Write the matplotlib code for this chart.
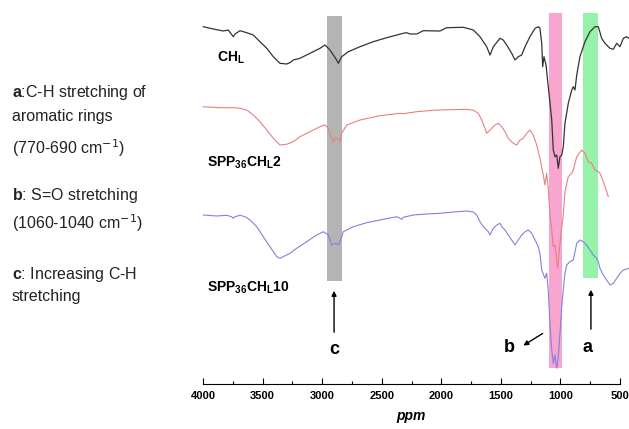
import numpy as np
import matplotlib
matplotlib.use('Agg')
import matplotlib.pyplot as plt

# font setup (Arial-like)
plt.rcParams['font.family'] = ['Liberation Sans', 'DejaVu Sans']
plt.rcParams['mathtext.fontset'] = 'custom'
plt.rcParams['mathtext.rm'] = 'Liberation Sans'
plt.rcParams['mathtext.bf'] = 'Liberation Sans:bold'
plt.rcParams['mathtext.it'] = 'Liberation Sans:italic'

# spectra: wavenumber (cm-1) and intensity (a.u.)
ch_x = [3997, 3914, 3830, 3788, 3746, 3731, 3690, 3633, 3578, 3522, 3465, 3410, 3354, 3298,
        3270, 3242, 3186, 3102, 3018, 2976, 2934, 2878, 2864, 2836, 2780, 2682, 2571, 2458,
        2319, 2290, 2263, 2206, 2151, 2011, 1983, 1955, 1815, 1731, 1675, 1619, 1591, 1563,
        1507, 1480, 1451, 1409, 1381, 1354, 1325, 1297, 1256, 1213, 1186, 1172, 1157, 1149,
        1138, 1121, 1102, 1073, 1060, 1046, 1031, 1018, 1004, 989, 976, 962, 934, 905, 892,
        878, 863, 836, 794, 752, 710, 682, 654, 626, 584, 556, 528, 500, 472, 444, 425]
ch_y = [357.3, 355, 353, 354, 347.3, 350, 353.3, 351.3, 349, 342.3, 335.7, 327.3, 320.7, 320,
        321.3, 324, 325.7, 330.7, 335.7, 339, 334, 324, 320.7, 327.3, 332.3, 337.3, 342.3, 346.3,
        350.7, 351.3, 350, 350, 353.3, 353, 354.7, 356.3, 356.7, 354, 347.3, 337.3, 329, 337.3,
        345.7, 344, 339, 330.7, 324, 327.3, 329, 337.3, 347.3, 355.7, 357.3, 355.7, 340.7, 317.3,
        327.3, 319, 297.3, 264, 234, 227.3, 229, 215.7, 227.3, 229, 237.3, 260.7, 280.7, 294, 297.3,
        294, 309, 327.3, 342.3, 352.3, 357.3, 357.3, 345.7, 340.7, 335.7, 334.7, 340.7, 337.3,
        345.7, 347.3, 345.7]

spp2_x = [3997, 3857, 3746, 3690, 3633, 3578, 3522, 3465, 3410, 3354, 3298, 3242, 3186, 3102,
          3018, 2976, 2948, 2920, 2906, 2892, 2864, 2850, 2836, 2794, 2682, 2514, 2347, 2319,
          2206, 2067, 1927, 1787, 1731, 1689, 1661, 1633, 1619, 1605, 1577, 1549, 1522, 1493,
          1465, 1438, 1396, 1367, 1339, 1312, 1283, 1256, 1228, 1199, 1172, 1144, 1130, 1116,
          1102, 1088, 1073, 1060, 1046, 1023, 1004, 987, 976, 962, 934, 905, 892, 863, 822,
          794, 766, 738, 710, 682, 668, 640, 598]
spp2_y = [277.3, 276.3, 276.3, 275.7, 274, 269, 262.3, 254, 245.7, 239, 239.7, 242.3, 247.3, 252.3,
          257.3, 259, 255.7, 245.7, 242.3, 245.7, 245.7, 242.3, 250.7, 259, 264, 268.3, 270.7, 270.3,
          272.3, 273.7, 274.3, 274.7, 273.7, 270.7, 264, 255.7, 250.7, 252.3, 255.7, 259, 260.7, 257.3,
          252.3, 245.7, 240.7, 239, 244, 245.7, 250.7, 254, 249, 239, 225.7, 209, 199, 210.7,
          195.7, 169, 154, 137.3, 139, 115.7, 140.7, 159, 169, 192.3, 207.3, 210.7, 214, 227.3, 234,
          230.7, 222.3, 220.7, 214, 212.3, 210.7, 202.3, 187.3]

spp10_x = [3997, 3885, 3801, 3759, 3746, 3731, 3690, 3647, 3605, 3549, 3494, 3438, 3381, 3354,
           3326, 3270, 3214, 3130, 3046, 2990, 2948, 2934, 2920, 2892, 2864, 2850, 2822, 2738,
           2626, 2487, 2374, 2347, 2332, 2319, 2235, 2122, 2011, 1899, 1787, 1731, 1703, 1675,
           1647, 1605, 1591, 1563, 1535, 1507, 1493, 1465, 1438, 1409, 1381, 1354, 1325, 1297,
           1270, 1241, 1213, 1186, 1172, 1157, 1130, 1116, 1102, 1088, 1073, 1060, 1046, 1031,
           1018, 1004, 989, 976, 962, 947, 920, 892, 863, 836, 808, 780, 752, 724, 696, 682,
           668, 640, 612, 584, 556, 528, 500, 472, 425]
spp10_y = [169, 168, 168.7, 167.3, 165.7, 167.3, 168.7, 167.3, 164, 157.3, 147.3, 137.3, 127.3, 125.7,
           127.3, 130.7, 135.7, 142.3, 149, 152.3, 149, 144, 139, 140.7, 139, 142.3, 152.3, 157.3,
           161.3, 164.7, 167.3, 165.7, 164.7, 166.7, 169, 170, 170.7, 172, 173, 172, 169, 162.3,
           157.3, 152.3, 149, 155.7, 159, 160.7, 157.3, 154, 149, 144, 139, 144, 149, 152.3,
           154, 150.7, 144, 137.3, 130.7, 114, 105.7, 110.7, 94, 60.7, 34, 20.7, 29, 15.7,
           27.3, 50.7, 77.3, 94, 110.7, 119, 122.3, 124, 140.7, 144, 142.3, 139, 134, 129, 125.7, 122.3,
           115.7, 109, 104, 99, 100.7, 105.7, 110.7, 114, 115.7]

# highlighted regions: (high, low, bottom, top)
band_c = (2960, 2835, 103, 368)
band_b = (1095, 985, 16, 371)
band_a = (810, 684, 106, 371)

xticks = [4000, 3500, 3000, 2500, 2000, 1500, 1000, 500]

fig = plt.figure(figsize=(6.29, 4.29), dpi=100)
ax = fig.add_axes([203 / 629, 45 / 429, 417 / 629, 384 / 429])

# colored bands behind the spectra
ax.fill_between([band_c[0], band_c[1]], band_c[2], band_c[3], color='#b4b4b4', lw=0, zorder=1)
ax.fill_between([band_b[0], band_b[1]], band_b[2], band_b[3], color='#f8a6cf', lw=0, zorder=1)
ax.fill_between([band_a[0], band_a[1]], band_a[2], band_a[3], color='#96f2a8', lw=0, zorder=1)

# spectra
ax.plot(ch_x, ch_y, color='#333333', lw=0.9, clip_on=False, zorder=2)
ax.plot(spp2_x, spp2_y, color='#e88080', lw=0.8, clip_on=False, zorder=2)
ax.plot(spp10_x, spp10_y, color='#8380de', lw=0.8, clip_on=False, zorder=2)

# curve labels
ax.text(3882, 326, r'$\mathbf{CH}_{\mathbf{L}}$', fontsize=10, va='center')
ax.text(3966, 221, r'$\mathbf{SPP}_{\mathbf{36}}\mathbf{CH}_{\mathbf{L}}\mathbf{2}$', fontsize=10, va='center')
ax.text(3966, 96, r'$\mathbf{SPP}_{\mathbf{36}}\mathbf{CH}_{\mathbf{L}}\mathbf{10}$', fontsize=10, va='center')

# arrows and band letters
arrow = dict(arrowstyle='-|>', color='black', lw=1.0, mutation_scale=7)
ax.annotate('', xy=(2900, 96), xytext=(2900, 49), arrowprops=arrow)
ax.annotate('', xy=(744, 97), xytext=(744, 52), arrowprops=arrow)
ax.annotate('', xy=(1331, 37), xytext=(1130, 52), arrowprops=arrow)
ax.text(2900, 34, 'c', fontsize=13, fontweight='bold', ha='center', va='center')
ax.text(1430, 37, 'b', fontsize=13, fontweight='bold', ha='center', va='center')
ax.text(769, 37, 'a', fontsize=13, fontweight='bold', ha='center', va='center')

# axes styling: only the bottom axis
ax.set_xlim(4000, 500)
ax.set_ylim(0, 384)
for s in ['left', 'top', 'right']:
    ax.spines[s].set_visible(False)
ax.spines['bottom'].set_linewidth(0.8)
ax.set_yticks([])
ax.set_xticks(xticks)
ax.set_xticks(np.arange(3750, 500, -500), minor=True)
ax.tick_params(axis='x', which='major', direction='in', length=4, width=0.8, pad=5, labelsize=8)
ax.tick_params(axis='x', which='minor', direction='in', length=2, width=0.8)
for lab in ax.get_xticklabels():
    lab.set_fontweight('bold')
ax.set_xlabel('ppm', fontsize=10, fontweight='bold', fontstyle='italic', labelpad=6)
ax.patch.set_alpha(0)

# notes on the left
notes = [(93, r'$\mathbf{a}$:C-H stretching of'),
         (117, 'aromatic rings'),
         (148, r'(770-690 cm$^{\mathsf{-1}}$)'),
         (195, r'$\mathbf{b}$: S=O stretching'),
         (223, r'(1060-1040 cm$^{\mathsf{-1}}$)'),
         (275, r'$\mathbf{c}$: Increasing C-H'),
         (297, 'stretching')]
for py, txt in notes:
    fig.text(12 / 629, 1 - py / 429, txt, fontsize=11.5, va='center', ha='left', color='#222222')

fig.savefig('out.png', dpi=100)
